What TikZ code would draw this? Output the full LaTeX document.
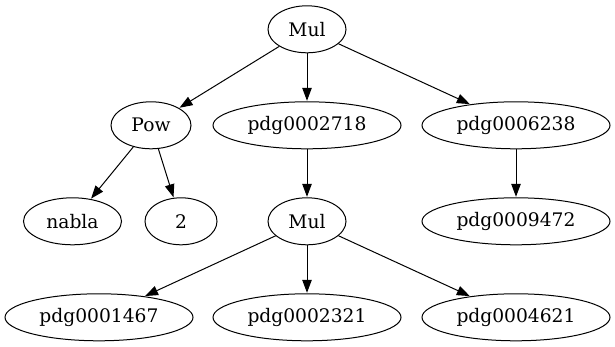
\documentclass[tikz,border=0pt]{standalone}
\usepackage{fontspec}
\setmainfont{DejaVu Serif}
\usetikzlibrary{shapes.geometric,arrows.meta}
\begin{document}
\begin{tikzpicture}[x=1pt,y=-1pt,
  gnode/.style={draw, ellipse, line width=1pt, inner sep=0pt, minimum height=47pt,
    font=\fontsize{18.67}{22}\selectfont},
  edge/.style={draw, line width=1pt, -{Triangle[length=13pt,width=9.5pt]}, shorten >=0.5pt}]
\useasboundingbox (0,0) rectangle (615,347);
\node[gnode, minimum width=78pt] (mul1) at (307,29.3) {Mul};
\node[gnode, minimum width=80pt] (pow) at (151,125.3) {Pow};
\node[gnode, minimum width=188pt] (p2718) at (307,125.3) {pdg0002718};
\node[gnode, minimum width=188pt] (p6238) at (516,125.3) {pdg0006238};
\node[gnode, minimum width=98pt] (nabla) at (72.5,221.3) {nabla};
\node[gnode, minimum width=72pt] (two) at (181,221.3) {2};
\node[gnode, minimum width=78pt] (mul2) at (307,221.3) {Mul};
\node[gnode, minimum width=188pt] (p9472) at (516,221.3) {pdg0009472};
\node[gnode, minimum width=188pt] (p1467) at (99,317.3) {pdg0001467};
\node[gnode, minimum width=188pt] (p2321) at (307,317.3) {pdg0002321};
\node[gnode, minimum width=188pt] (p4621) at (516,317.3) {pdg0004621};
\path[edge] (mul1) -- (pow);
\path[edge] (mul1) -- (p2718);
\path[edge] (mul1) -- (p6238);
\path[edge] (pow) -- (nabla);
\path[edge] (pow) -- (two);
\path[edge] (p2718) -- (mul2);
\path[edge] (p6238) -- (p9472);
\path[edge] (mul2) -- (p1467);
\path[edge] (mul2) -- (p2321);
\path[edge] (mul2) -- (p4621);
\end{tikzpicture}
\end{document}
